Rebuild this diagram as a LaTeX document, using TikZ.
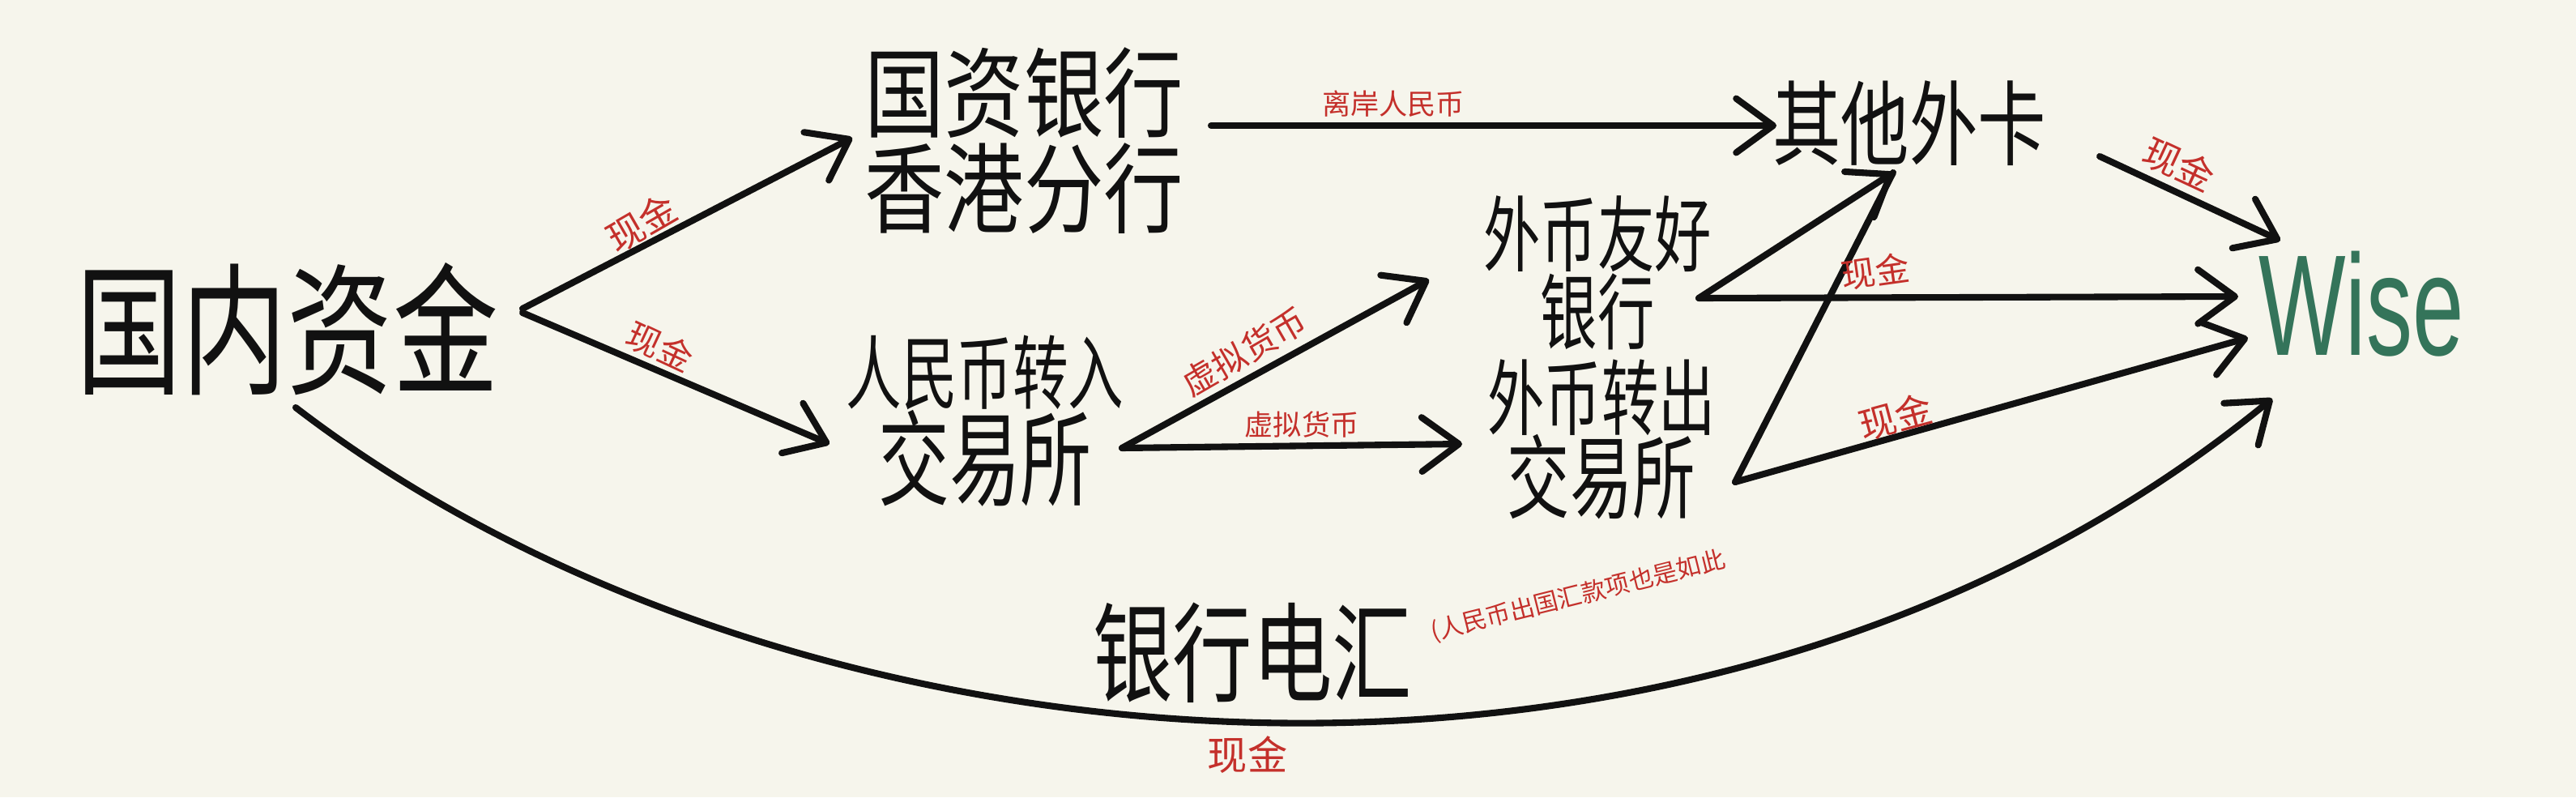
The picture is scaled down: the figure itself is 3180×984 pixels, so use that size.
\documentclass[tikz,border=0pt]{standalone}
\usepackage{fontspec}
\usepackage{graphicx}
\usetikzlibrary{arrows.meta}
\newfontfamily\cjk{Noto Sans CJK SC}
\newfontfamily\wisefont{Liberation Sans}
\definecolor{bg}{HTML}{F6F5EC}
\definecolor{ink}{HTML}{111111}
\definecolor{redink}{HTML}{C4302B}
\definecolor{wisegreen}{HTML}{34745A}
\newcommand\hand[4]{\scalebox{1}[#3]{\vbox{\fontsize{#1}{#2}\selectfont\lineskiplimit=-100pt\halign{\hfil##\hfil\cr#4\crcr}}}}
\newcommand\redt[2]{\fontsize{#1}{#1}\selectfont #2}
\begin{document}
\begin{tikzpicture}[x=0.01cm,y=-0.01cm,
  box/.style={inner sep=0pt,outer sep=0pt,text=ink,font=\cjk},
  lab/.style={inner sep=0pt,outer sep=0pt,text=redink,font=\cjk},
  arr/.style={draw=ink,line width=2.3pt,line cap=round,line join=round,
    -{Straight Barb[length=13pt,width=19pt,round]}},
  plainline/.style={draw=ink,line width=2.3pt,line cap=round,line join=round}]
\fill[bg] (0,0) rectangle (3180,984);
\useasboundingbox (0,0) rectangle (3180,984);

% main nodes
\node[box] (gn) at (355,406) {\hand{37pt}{37pt}{1.35}{国内资金}};
\node[box] (hk) at (1264,174) {\hand{28pt}{27.3pt}{1.23}{国资银行\cr 香港分行}};
\node[box] (ex1) at (1216,520) {\hand{25pt}{23pt}{1.45}{{\fontsize{19.5pt}{19.5pt}\selectfont 人民币转入}\cr 交易所}};
\node[box] (fb) at (1972,337) {\hand{20pt}{18.8pt}{1.45}{外币友好\cr 银行}};
\node[box] (ex2) at (1977,542) {\hand{22pt}{20pt}{1.45}{{\fontsize{20pt}{20pt}\selectfont 外币转出}\cr 交易所}};
\node[box] (qt) at (2357,152) {\hand{24pt}{24pt}{1.35}{其他外卡}};
\node[box] (wire) at (1546,806) {\hand{28pt}{28pt}{1.36}{银行电汇}};
\node[inner sep=0pt,text=wisegreen] (wise) at (2915,375) {\scalebox{0.9}[1.4]{\fontsize{36pt}{36pt}\wisefont Wise}};

% connectors
\draw[arr] ([shift={(290,-25)}]gn.center) -- ([shift={(-212,-4)}]hk.center);
\draw[arr] ([shift={(290,-20)}]gn.center) -- ([shift={(-192,28)}]ex1.center);
\draw[arr] ([shift={(231,-19)}]hk.center) -- ([shift={(-164,3)}]qt.center);
\draw[arr] ([shift={(169,33)}]ex1.center) -- ([shift={(-208,8)}]fb.center);
\draw[arr] ([shift={(169,33)}]ex1.center) -- ([shift={(-172,6)}]ex2.center);
\draw[arr] ([shift={(125,31)}]fb.center) -- ([shift={(-20,61)}]qt.center);
\draw[plainline] ([shift={(165,53)}]ex2.center) -- ([shift={(-20,61)}]qt.center);
\draw[arr] ([shift={(125,31)}]fb.center) -- ([shift={(-152,-9)}]wise.center);
\draw[arr] ([shift={(165,53)}]ex2.center) -- ([shift={(-140,42)}]wise.center);
\draw[arr] ([shift={(235,41)}]qt.center) -- ([shift={(-100,-78)}]wise.center);
\draw[arr] ([shift={(10,97)}]gn.center) .. controls (980,975) and (2100,1070) .. ([shift={(-110,117)}]wise.center);

% red labels
\node[lab,rotate=30] (l1) at (792,275) {\redt{13pt}{现金}};
\node[lab,rotate=-25] (l2) at (815,428) {\redt{12pt}{现金}};
\node[lab] (l3) at (1720,128) {\redt{10pt}{离岸人民币}};
\node[lab,rotate=30] (l4) at (1536,434) {\redt{12pt}{虚拟货币}};
\node[lab] (l5) at (1607,524) {\redt{10pt}{虚拟货币}};
\node[lab,rotate=8] (l6) at (2315,335) {\redt{12pt}{现金}};
\node[lab,rotate=15] (l7) at (2340,515) {\redt{13pt}{现金}};
\node[lab,rotate=-25] (l8) at (2690,203) {\redt{13pt}{现金}};
\node[lab,rotate=14] (l9) at (1948,736) {\redt{8.6pt}{(人民币出国汇款项也是如此}};
\node[lab] (l10) at (1540,932) {\redt{14pt}{现金}};
\end{tikzpicture}
\end{document}
